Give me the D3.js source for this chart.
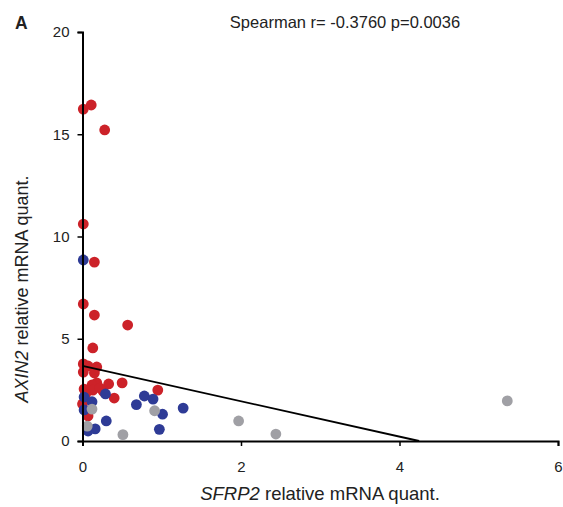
<!DOCTYPE html>
<html>
<head>
<meta charset="utf-8">
<script src="https://cdn.jsdelivr.net/npm/d3@7"></script>
<style>
  body { margin: 0; background: #fff; }
  text { font-family: "Liberation Sans", Arial, sans-serif; fill: #222; }
</style>
</head>
<body>
<div id="chart"></div>
<script>
// data: [SFRP2, AXIN2]
var redPoints = [
  [0.01, 16.23], [0.11, 16.43], [0.28, 15.21], [0.01, 10.61], [0.15, 8.75],
  [0.01, 6.70], [0.15, 6.16], [0.57, 5.67], [0.13, 4.55], [0.01, 3.77],
  [0.07, 3.67], [0.01, 3.37], [0.18, 3.62], [0.15, 3.33], [0.18, 2.84],
  [0.12, 2.74], [0.33, 2.79], [0.50, 2.84], [0.02, 2.54], [0.13, 2.49],
  [0.26, 2.44], [0.40, 2.10], [0.95, 2.49], [0.00, 1.81], [0.07, 1.22],
  [0.04, 2.30], [0.22, 2.59]
];
var bluePoints = [
  [0.01, 8.85], [0.02, 2.15], [0.12, 1.92], [0.02, 1.52], [0.29, 2.30],
  [0.30, 0.98], [0.07, 0.49], [0.16, 0.59], [0.68, 1.78], [0.78, 2.20],
  [0.89, 2.05], [1.01, 1.31], [1.27, 1.61], [0.97, 0.57]
];
var grayPoints = [
  [0.12, 1.56], [0.06, 0.73], [0.51, 0.31], [0.91, 1.48],
  [1.97, 0.98], [2.44, 0.34], [5.36, 1.96]
];
var xTicks = [0, 2, 4, 6];
var yTicks = [0, 5, 10, 15, 20];
var fitIntercept = 3.67, fitSlope = -0.864;
var title = "Spearman r= -0.3760 p=0.0036";

var W = 563, H = 507;
var margin = {top: 32, right: 5, bottom: 66, left: 82.5};

var svg = d3.select("#chart").append("svg")
  .attr("width", W).attr("height", H);

var x = d3.scaleLinear().domain([0, 6]).range([margin.left, W - margin.right]);
var y = d3.scaleLinear().domain([0, 20]).range([H - margin.bottom, margin.top]);

// dots: red first, then blue, gray on top
var groups = [
  {data: redPoints, color: "#cc2229"},
  {data: bluePoints, color: "#2e3b96"},
  {data: grayPoints, color: "#a0a0a5"}
];
groups.forEach(function(g) {
  svg.append("g").selectAll("circle")
    .data(g.data).enter()
    .append("circle")
    .attr("cx", function(d) { return x(d[0]); })
    .attr("cy", function(d) { return y(d[1]); })
    .attr("r", 5.4)
    .style("fill", g.color);
});

// regression line, clipped at y = 0
var xEnd = -fitIntercept / fitSlope;
svg.append("line")
  .attr("x1", x(0)).attr("y1", y(fitIntercept))
  .attr("x2", x(xEnd)).attr("y2", y(0))
  .style("stroke", "#000").style("stroke-width", 1.8);

// axes
var xAxis = svg.append("g")
  .attr("transform", "translate(0," + y(0) + ")")
  .call(d3.axisBottom(x).tickValues(xTicks).tickSize(5).tickPadding(15).tickFormat(d3.format("d")));
var yAxis = svg.append("g")
  .attr("transform", "translate(" + x(0) + ",0)")
  .call(d3.axisLeft(y).tickValues(yTicks).tickSize(5).tickPadding(8).tickFormat(d3.format("d")));
[xAxis, yAxis].forEach(function(a) {
  a.select(".domain").style("stroke", "#000").style("stroke-width", 2);
  a.selectAll(".tick line").style("stroke", "#000").style("stroke-width", 1.5);
  a.selectAll(".tick text").style("font-size", "15px")
    .style("font-family", "'Liberation Sans', Arial, sans-serif").style("fill", "#222");
});

// labels
svg.append("text").attr("x", 15).attr("y", 29)
  .style("font-size", "17.5px").style("font-weight", "bold").text("A");

svg.append("text").attr("x", 345).attr("y", 28)
  .attr("text-anchor", "middle").style("font-size", "16.5px").text(title);

var xl = svg.append("text").attr("x", 320).attr("y", 500)
  .attr("text-anchor", "middle").style("font-size", "18.5px");
xl.append("tspan").style("font-style", "italic").text("SFRP2");
xl.append("tspan").text(" relative mRNA quant.");

var yl = svg.append("text")
  .attr("transform", "translate(28," + 289 + ") rotate(-90)")
  .attr("text-anchor", "middle").style("font-size", "18px");
yl.append("tspan").style("font-style", "italic").text("AXIN2");
yl.append("tspan").text(" relative mRNA quant.");
</script>
</body>
</html>
